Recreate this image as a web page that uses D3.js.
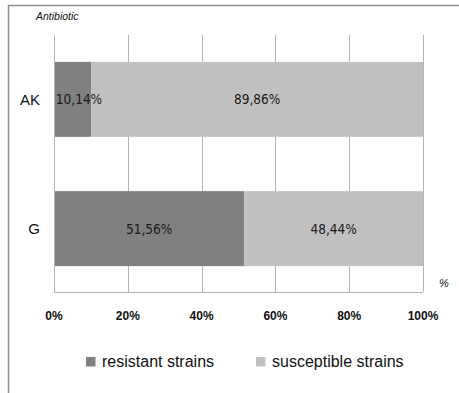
<!DOCTYPE html>
<html>
<head>
<meta charset="utf-8">
<script src="https://cdn.jsdelivr.net/npm/d3@7"></script>
<style>
  html, body { margin: 0; padding: 0; background: #fff; }
  svg { display: block; }
</style>
</head>
<body>
<svg id="chart" width="459" height="393"></svg>
<script>
// Antibiotic resistance shares per antibiotic (percent)
const categories = ["AK", "G"];
const seriesNames = ["resistant strains", "susceptible strains"];
const resistant = [10.14, 51.56];
const susceptible = [89.86, 48.44];
const tickValues = [0, 20, 40, 60, 80, 100];
const tickLabels = ["0%", "20%", "40%", "60%", "80%", "100%"];
const colors = ["#808080", "#c0c0c0"];

const svg = d3.select("#chart");
const W = 459, H = 393;
const sans = "'Liberation Sans', Arial, sans-serif";

// frame lines (top and left)
svg.append("line").attr("x1", 8.5).attr("x2", W).attr("y1", 5.5).attr("y2", 5.5)
  .attr("stroke", "#8c8c8c").attr("stroke-width", 1.5);
svg.append("line").attr("x1", 8.5).attr("x2", 8.5).attr("y1", 5).attr("y2", H)
  .attr("stroke", "#8c8c8c").attr("stroke-width", 1.5);

const plot = { left: 54, right: 423, top: 35, bottom: 292 };

const x = d3.scaleLinear().domain([0, 100]).range([plot.left, plot.right]);
const y = d3.scaleBand().domain(categories).range([plot.top + 1, plot.bottom])
  .paddingInner(0.42).paddingOuter(0.2);

// vertical gridlines
svg.append("g").selectAll("line").data(tickValues).join("line")
  .attr("x1", d => Math.round(x(d)) + 0.5).attr("x2", d => Math.round(x(d)) + 0.5)
  .attr("y1", plot.top).attr("y2", plot.bottom)
  .attr("stroke", "#b4b4b4").attr("stroke-width", 1);

// stacked bars
const rows = categories.map((c, i) => ({ cat: c, values: [resistant[i], susceptible[i]] }));
const segs = [];
rows.forEach(r => {
  let acc = 0;
  r.values.forEach((v, k) => {
    segs.push({ cat: r.cat, k, x0: acc, x1: acc + v, v });
    acc += v;
  });
});

svg.append("g").selectAll("rect").data(segs).join("rect")
  .attr("x", d => x(d.x0))
  .attr("width", d => x(d.x1) - x(d.x0))
  .attr("y", d => y(d.cat))
  .attr("height", y.bandwidth())
  .attr("fill", d => colors[d.k]);

// bottom axis line
svg.append("line").attr("x1", plot.left).attr("x2", plot.right)
  .attr("y1", plot.bottom + 0.5).attr("y2", plot.bottom + 0.5)
  .attr("stroke", "#b4b4b4").attr("stroke-width", 1);
// left axis line
svg.append("line").attr("x1", plot.left + 0.5).attr("x2", plot.left + 0.5)
  .attr("y1", plot.top).attr("y2", plot.bottom)
  .attr("stroke", "#b4b4b4").attr("stroke-width", 1);

// value labels
const fmt = v => v.toFixed(2).replace(".", ",") + "%";
svg.append("g").selectAll("text").data(segs).join("text")
  .attr("x", d => {
    const c = (x(d.x0) + x(d.x1)) / 2;
    return Math.max(c, x(d.x0) + 25);
  })
  .attr("y", d => y(d.cat) + y.bandwidth() / 2)
  .attr("dy", "0.36em")
  .attr("text-anchor", "middle")
  .attr("font-family", "'DejaVu Sans Condensed', 'DejaVu Sans', sans-serif")
  .attr("font-stretch", "condensed")
  .attr("font-size", 13.5)
  .attr("fill", "#1a1a1a")
  .text(d => fmt(d.v));

// category labels
svg.append("g").selectAll("text").data(categories).join("text")
  .attr("x", 40)
  .attr("y", d => y(d) + y.bandwidth() / 2)
  .attr("dy", "0.36em")
  .attr("text-anchor", "end")
  .attr("font-family", sans)
  .attr("font-size", 15)
  .attr("fill", "#111")
  .text(d => d);

// x tick labels
svg.append("g").selectAll("text").data(tickValues).join("text")
  .attr("x", d => x(d))
  .attr("y", 320)
  .attr("text-anchor", "middle")
  .attr("font-family", sans)
  .attr("font-weight", "bold")
  .attr("font-size", 12)
  .attr("fill", "#111")
  .text((d, i) => tickLabels[i]);

// axis titles
svg.append("text").attr("x", 36).attr("y", 20)
  .attr("font-family", sans)
  .attr("font-style", "italic").attr("font-size", 10.5).attr("fill", "#111")
  .text("Antibiotic");
svg.append("text").attr("x", 439).attr("y", 287)
  .attr("font-family", sans)
  .attr("font-style", "italic").attr("font-size", 11).attr("fill", "#111")
  .text("%");

// legend
const legendX = [86, 256];
const lg = svg.append("g").selectAll("g").data(seriesNames).join("g")
  .attr("transform", (d, i) => `translate(${legendX[i]},357)`);
lg.append("rect").attr("width", 9.5).attr("height", 9.5).attr("fill", (d, i) => colors[i]);
lg.append("text").attr("x", 16).attr("y", 10)
  .attr("font-family", sans)
  .attr("font-size", 16).attr("fill", "#111")
  .text(d => d);
</script>
</body>
</html>
